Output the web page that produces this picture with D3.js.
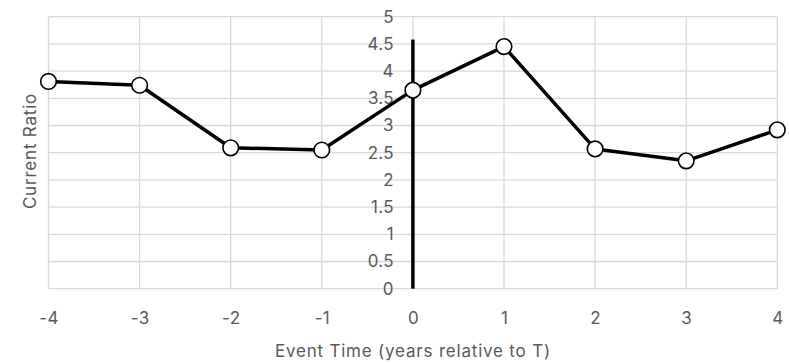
<!DOCTYPE html>
<html>
<head>
<meta charset="utf-8">
<script src="https://cdn.jsdelivr.net/npm/d3@7"></script>
<style>
  html, body { margin: 0; padding: 0; background: #fff; }
  svg { display: block; }
  svg text { font-family: Inter, "Open Sans", sans-serif !important; font-size: 17px !important; letter-spacing: 0.8px; fill: #595959 !important; }
  svg .tick text { letter-spacing: 0.3px; }
</style>
</head>
<body>
<svg id="chart" width="789" height="363"></svg>
<script>
const eventTimes = [-4, -3, -2, -1, 0, 1, 2, 3, 4];
const currentRatio = [3.81, 3.74, 2.59, 2.55, 3.65, 4.45, 2.57, 2.35, 2.92];
const xTicks = [-4, -3, -2, -1, 0, 1, 2, 3, 4];
const yTicks = [0, 0.5, 1, 1.5, 2, 2.5, 3, 3.5, 4, 4.5, 5];
const eventLine = [0, 4.58];
const xTitle = "Event Time (years relative to T)";
const yTitle = "Current Ratio";

const svg = d3.select("#chart");
const x = d3.scaleLinear().domain([-4, 4]).range([48.5, 777.3]);
const y = d3.scaleLinear().domain([0, 5]).range([288.7, 16.7]);

// gridlines
svg.append("g").selectAll("line").data(yTicks).join("line")
  .attr("x1", x(-4)).attr("x2", x(4))
  .attr("y1", d => y(d)).attr("y2", d => y(d))
  .attr("stroke", "#d9d9d9").attr("stroke-width", 1.3);
svg.append("g").selectAll("line").data(xTicks).join("line")
  .attr("x1", d => x(d)).attr("x2", d => x(d))
  .attr("y1", y(0)).attr("y2", y(5))
  .attr("stroke", "#d9d9d9").attr("stroke-width", 1.3);

// x axis labels
const xAxis = d3.axisBottom(x).tickValues(xTicks).tickSize(0).tickPadding(23).tickFormat(d => String(d));
const gx = svg.append("g").attr("transform", `translate(0,${y(0)})`).call(xAxis);
gx.attr("font-size", null).attr("font-family", null);
gx.select(".domain").remove();

// y axis labels at x = 0
const yAxis = d3.axisLeft(y).tickValues(yTicks).tickSize(0).tickPadding(19).tickFormat(d => String(d));
const gy = svg.append("g").attr("transform", `translate(${x(0)},0)`).call(yAxis);
gy.attr("font-size", null).attr("font-family", null);
gy.select(".domain").remove();

// event line
svg.append("line")
  .attr("x1", x(0)).attr("x2", x(0))
  .attr("y1", y(eventLine[0])).attr("y2", y(eventLine[1]))
  .attr("stroke", "#000").attr("stroke-width", 3.5);

// series
const line = d3.line().x((d, i) => x(eventTimes[i])).y(d => y(d));
svg.append("path").datum(currentRatio)
  .attr("d", line).attr("fill", "none")
  .attr("stroke", "#000").attr("stroke-width", 3.5).attr("stroke-linejoin", "round");
svg.append("g").selectAll("circle").data(currentRatio).join("circle")
  .attr("cx", (d, i) => x(eventTimes[i])).attr("cy", d => y(d))
  .attr("r", 7.8).attr("fill", "#fff").attr("stroke", "#000").attr("stroke-width", 1.6);

// titles
svg.append("text").attr("x", x(0)).attr("y", 357)
  .attr("text-anchor", "middle").text(xTitle);
svg.append("text").attr("transform", `translate(36,${151}) rotate(-90)`)
  .attr("text-anchor", "middle").text(yTitle);
</script>
</body>
</html>
